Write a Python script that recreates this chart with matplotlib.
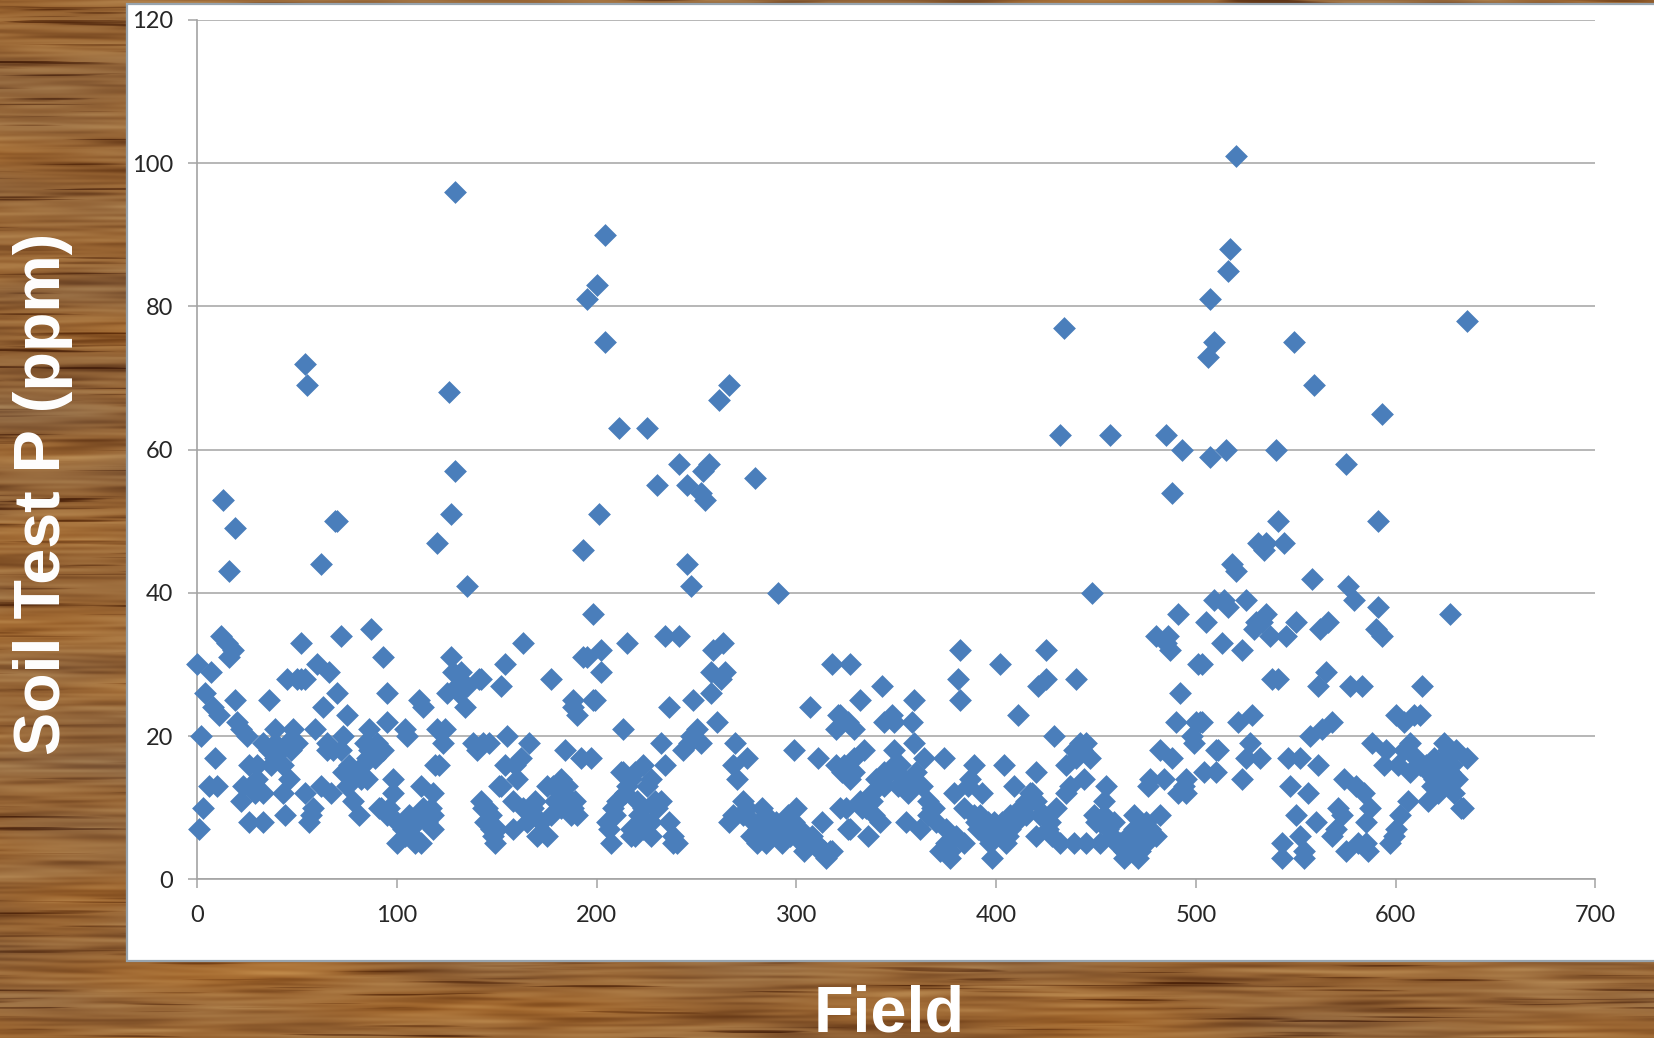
import numpy as np
import matplotlib
matplotlib.use("Agg")
import matplotlib.pyplot as plt
from matplotlib.patches import Rectangle

# (field, soil test P) readings, grouped by field range
fields_0_99 = [
    (0, 30), (7, 29), (12, 34), (15, 33), (18, 32), (16, 31), (4, 26), (8, 24), (11, 23), (19, 25),
    (20, 22), (22, 21), (25, 20), (2, 20), (9, 17), (6, 13), (10, 13), (3, 10), (1, 7), (26, 8),
    (33, 8), (22, 11), (23, 13), (26, 16), (30, 16), (29, 12), (33, 12), (30, 14), (27, 13), (36, 25),
    (45, 28), (50, 28), (52, 28), (52, 33), (60, 30), (66, 29), (70, 26), (63, 24), (75, 23), (72, 34),
    (87, 35), (93, 31), (95, 26), (95, 22), (86, 21), (39, 21), (48, 21), (59, 21), (73, 20), (33, 19),
    (39, 19), (45, 19), (50, 19), (65, 19), (65, 18), (39, 17), (43, 16), (46, 14), (43, 12), (54, 12),
    (62, 13), (67, 12), (73, 15), (78, 15), (83, 16), (85, 14), (75, 13), (78, 11), (81, 9), (90, 19),
    (86, 18), (93, 18), (98, 14), (98, 12), (91, 10), (95, 9), (58, 10), (57, 9), (56, 8), (44, 9),
    (36, 18), (42, 18), (37, 16), (47, 18), (84, 19),
    (89, 17), (85, 17), (80, 15), (13, 53), (19, 49), (16, 43), (54, 72), (55, 69), (62, 44),
    (69, 50), (70, 50), (92, 10), (54, 28), (76, 16), (72, 18), (68, 18), (82, 14), (96, 10),
]
fields_100_199 = [
    (100, 8), (100, 5), (109, 5), (112, 13), (118, 12), (117, 10), (118, 9), (118, 7), (106, 9), (103, 7),
    (104, 21), (105, 20), (120, 21), (124, 21), (123, 19), (121, 16), (127, 31), (132, 29), (141, 28), (135, 27),
    (125, 26), (131, 26), (134, 24), (198, 37), (163, 33), (154, 30), (152, 27), (177, 28), (142, 28),
    (188, 25), (198, 25), (190, 23), (188, 24), (155, 20), (166, 19), (162, 17), (154, 16), (159, 16),
    (160, 14), (152, 13), (143, 19), (184, 18), (192, 17), (197, 17), (182, 14), (178, 13), (142, 11), (145, 10),
    (147, 9), (147, 7), (148, 6), (149, 5), (158, 11), (158, 7), (163, 10), (169, 11), (167, 9), (170, 6),
    (175, 6), (172, 8), (177, 9), (179, 11), (187, 11), (188, 10), (187, 9), (182, 10), (175, 13), (129, 96),
    (126, 68), (129, 57), (127, 51), (120, 47), (135, 41), (193, 46), (195, 81), (193, 31), (195, 31), (104, 6),
    (108, 6), (112, 5), (115, 8), (110, 8), (113, 10), (143, 10), (144, 8), (146, 8), (150, 7), (151, 13),
    (186, 10), (185, 13), (190, 9), (183, 12), (189, 11), (111, 25), (113, 24), (138, 19), (140, 18), (146, 19),
    (128, 29), (130, 27), (119, 16), (165, 8), (168, 10),
]
fields_200_299 = [
    (202, 32), (202, 29), (215, 33), (234, 34), (241, 34), (263, 33), (258, 32), (257, 29), (264, 29), (262, 28),
    (257, 26), (236, 24), (248, 25), (260, 22), (250, 21), (247, 20), (252, 19), (213, 21), (232, 19), (243, 18),
    (246, 19), (213, 15), (223, 16), (227, 14), (217, 14), (234, 16), (269, 19), (275, 17), (268, 16), (270, 14),
    (299, 18), (206, 7), (207, 5), (208, 10), (210, 11), (209, 9), (215, 13), (220, 11), (223, 10), (217, 7),
    (217, 6), (227, 6), (223, 7), (227, 8), (230, 10), (232, 11), (238, 5), (240, 5), (238, 6), (266, 8),
    (273, 11), (273, 9), (278, 8), (280, 5), (283, 10), (285, 9), (285, 5), (293, 5), (288, 6), (297, 6),
    (294, 7), (204, 90), (200, 83), (204, 75), (266, 69), (261, 67), (211, 63), (225, 63), (241, 58), (256, 58),
    (253, 57), (230, 55), (245, 55), (279, 56), (252, 54), (254, 53), (201, 51), (245, 44), (247, 41), (291, 40),
    (199, 25), (219, 15), (225, 13), (221, 9), (212, 15), (236, 8), (222, 8), (205, 8), (281, 7), (275, 10),
    (268, 9), (290, 8), (296, 9), (287, 7), (277, 6), (291, 6), (299, 8), (219, 6), (229, 11), (214, 12),
]
fields_300_399 = [
    (300, 10), (313, 8), (318, 30), (327, 30), (307, 24), (321, 23), (332, 25), (320, 21), (326, 22), (329, 21),
    (325, 10), (326, 7), (306, 5), (304, 4), (308, 6), (315, 3), (317, 4), (310, 5), (302, 7), (318, 4),
    (311, 17), (343, 27), (359, 25), (348, 23), (344, 22), (349, 22), (358, 22), (322, 23), (359, 19), (349, 18),
    (334, 18), (364, 17), (374, 17), (329, 17), (324, 16), (344, 15), (349, 16), (329, 15), (360, 15), (354, 14),
    (363, 13), (356, 12), (347, 15), (344, 13), (338, 12), (382, 32), (381, 28), (382, 25), (389, 16), (387, 14),
    (379, 12), (393, 12), (322, 10), (332, 11), (338, 11), (342, 8), (327, 7), (336, 6), (333, 10), (339, 9),
    (355, 8), (362, 7), (369, 10), (366, 9), (370, 8), (375, 7), (372, 4), (377, 3), (375, 5), (377, 4),
    (384, 5), (384, 10), (389, 9), (390, 8), (394, 7), (395, 6), (397, 5), (398, 3), (320, 16), (323, 15),
    (327, 14), (335, 10), (352, 16), (340, 14), (357, 14), (351, 13), (366, 11), (368, 10), (386, 13), (392, 9),
    (399, 8), (396, 8), (380, 6), (391, 7), (303, 5), (312, 4), (314, 4),
]
fields_400_499 = [
    (402, 6), (407, 7), (405, 5), (410, 8), (407, 9), (414, 10), (418, 12), (420, 11), (415, 9), (420, 6),
    (424, 9), (427, 8), (430, 10), (426, 7), (432, 5), (439, 5), (445, 5), (452, 5), (450, 8), (454, 9),
    (449, 9), (458, 6), (460, 5), (464, 3), (469, 9), (469, 7), (467, 4), (472, 4), (464, 4), (475, 5),
    (475, 8), (480, 6), (482, 9), (477, 7), (404, 16), (420, 15), (425, 32), (425, 28), (421, 27), (440, 28),
    (402, 30), (411, 23), (429, 20), (442, 19), (439, 18), (435, 16), (440, 17), (447, 17), (444, 14), (437, 13),
    (435, 12), (455, 13), (454, 11), (409, 13), (417, 12), (415, 11), (491, 37), (480, 34), (486, 34), (487, 32),
    (492, 26), (490, 22), (498, 20), (499, 19), (482, 18), (488, 17), (477, 14), (484, 14), (476, 13), (495, 14),
    (495, 12), (494, 13), (434, 77), (432, 62), (457, 62), (485, 62), (493, 60), (488, 54), (448, 40), (485, 33),
    (412, 10), (422, 9), (428, 6), (443, 18), (445, 19), (400, 7), (403, 8), (406, 6), (462, 5), (466, 6),
    (468, 5), (470, 6), (473, 7), (478, 6), (471, 3), (456, 7), (459, 8), (452, 8), (491, 12),
]
fields_500_640 = [
    (501, 30), (502, 22), (500, 22), (504, 15), (510, 18), (510, 15), (505, 36), (535, 37), (530, 36), (529, 35),
    (550, 36), (537, 34), (545, 34), (566, 36), (562, 35), (513, 33), (523, 32), (503, 30), (538, 28), (541, 28),
    (565, 29), (561, 27), (577, 27), (583, 27), (613, 27), (600, 23), (612, 23), (609, 23), (604, 22), (528, 23),
    (521, 22), (503, 22), (568, 22), (563, 21), (557, 20), (588, 19), (607, 19), (604, 18), (595, 18), (624, 19),
    (630, 18), (636, 17), (626, 18), (527, 19), (525, 17), (532, 17), (511, 18), (546, 17), (552, 17), (561, 16),
    (523, 14), (594, 16), (601, 16), (607, 15), (612, 16), (617, 16), (622, 16), (616, 15), (619, 14), (624, 13),
    (629, 12), (616, 11), (621, 12), (633, 10), (547, 13), (556, 12), (574, 14), (580, 13), (584, 12), (587, 10),
    (571, 10), (573, 9), (585, 8), (606, 11), (602, 9), (600, 7), (597, 5), (599, 6), (550, 9), (560, 8),
    (552, 6), (570, 7), (568, 6), (543, 5), (543, 3), (554, 4), (554, 3), (575, 4), (581, 5), (586, 4),
    (585, 5), (627, 37), (579, 39), (591, 38), (590, 35), (593, 34), (520, 101), (517, 88), (516, 85), (507, 81),
    (509, 75), (549, 75), (506, 73), (636, 78), (559, 69), (593, 65), (507, 59), (515, 60), (540, 60), (575, 58),
    (541, 50), (591, 50), (531, 47), (535, 47), (534, 46), (544, 47), (518, 44), (520, 43), (576, 41), (558, 42),
    (509, 39), (514, 39), (516, 38), (525, 39), (533, 36), (619, 17), (627, 15), (631, 14), (610, 17), (634, 10),
    (628, 16), (623, 14), (615, 16), (620, 15), (625, 17), (618, 13),
]
all_points = (fields_0_99 + fields_100_199 + fields_200_299
              + fields_300_399 + fields_400_499 + fields_500_640)
field_values = [p[0] for p in all_points]
soil_p_values = [p[1] for p in all_points]

x_ticks = [0, 100, 200, 300, 400, 500, 600, 700]
y_ticks = [0, 20, 40, 60, 80, 100, 120]

WIDTH, HEIGHT = 1654, 1038
MARKER_BLUE = "#4A7EBB"
GRID_GREY = "#A3A3A3"


def stretched_noise(rng, height, width, sigma_y, sigma_x):
    # gaussian-filtered noise, long along x and thin along y
    noise = rng.normal(size=(height, width))
    fy = np.fft.fftfreq(height)[:, None]
    fx = np.fft.rfftfreq(width)[None, :]
    gain = np.exp(-2 * np.pi**2 * ((fy * sigma_y) ** 2 + (fx * sigma_x) ** 2))
    out = np.fft.irfft2(np.fft.rfft2(noise) * gain, s=(height, width))
    return out / out.std()


def wood_texture(height, width):
    rng = np.random.default_rng(23)
    fine = stretched_noise(rng, height, width, 1.3, 28)
    broad = stretched_noise(rng, height, width, 3, 50)
    lines = stretched_noise(rng, height, width, 0.9, 40)
    tint = stretched_noise(rng, height, width, 12, 70)

    level = 0.54 + 0.085 * fine + 0.055 * broad
    # thin dark grain lines where the line noise peaks
    level -= 0.3 * np.clip(lines - 1.2, 0, 1.2)

    deep = np.array([78, 36, 10]) / 255
    mid = np.array([150, 100, 52]) / 255
    pale = np.array([192, 148, 92]) / 255
    t = np.clip(level, 0, 1)[..., None]
    rgb = np.where(t < 0.5, deep + (mid - deep) * t * 2, mid + (pale - mid) * (t - 0.5) * 2)
    # slow drift between reddish and olive patches
    rgb = rgb + tint[..., None] * np.array([0.018, 0.004, -0.012])
    return np.clip(rgb, 0, 1)


def main():
    fig = plt.figure(figsize=(WIDTH / 100, HEIGHT / 100), dpi=100)

    bg = fig.add_axes([0, 0, 1, 1], zorder=0)
    bg.imshow(wood_texture(HEIGHT, WIDTH), extent=(0, WIDTH, HEIGHT, 0), aspect="auto",
              interpolation="bilinear")
    bg.add_patch(Rectangle((127, 4), WIDTH - 120, 957, facecolor="white",
                           edgecolor="#98A4AE", linewidth=1.6))
    bg.set_xlim(0, WIDTH)
    bg.set_ylim(HEIGHT, 0)
    bg.axis("off")

    left, right, top, bottom = 197.3, 1595.3, 20.0, 879.3
    ax = fig.add_axes([left / WIDTH, 1 - bottom / HEIGHT, (right - left) / WIDTH, (bottom - top) / HEIGHT],
                      zorder=1)
    ax.patch.set_alpha(0)
    ax.scatter(field_values, soil_p_values, marker="D", s=135, color=MARKER_BLUE,
               linewidths=0, zorder=3, clip_on=False)

    ax.set_xlim(0, 700)
    ax.set_ylim(0, 120)
    ax.set_xticks(x_ticks)
    ax.set_yticks(y_ticks)
    ax.grid(True, axis="y", color=GRID_GREY, linewidth=1.1, zorder=1)
    ax.set_axisbelow(True)
    for side in ["top", "right"]:
        ax.spines[side].set_visible(False)
    for side in ["left", "bottom"]:
        ax.spines[side].set_color(GRID_GREY)
        ax.spines[side].set_linewidth(1.2)
    ax.tick_params(axis="both", direction="out", length=6.5, width=1.1, color=GRID_GREY,
                   labelcolor="#262626", labelsize=17)
    ax.tick_params(axis="x", pad=12)
    ax.tick_params(axis="y", pad=11)
    for label in ax.get_xticklabels() + ax.get_yticklabels():
        label.set_family("Lato")

    fig.text(889 / WIDTH, 1 - 1032 / HEIGHT, "Field", color="white", fontsize=46.5, fontweight="bold",
             family="Liberation Sans", ha="center", va="baseline", zorder=5)
    fig.text(43 / WIDTH, 1 - 494 / HEIGHT, "Soil Test P (ppm)", color="white", fontsize=46.5,
             fontweight="bold", family="Liberation Sans", rotation=90, ha="center", va="center", zorder=5)

    fig.savefig("out.png", dpi=100)


if __name__ == '__main__':
    main()
